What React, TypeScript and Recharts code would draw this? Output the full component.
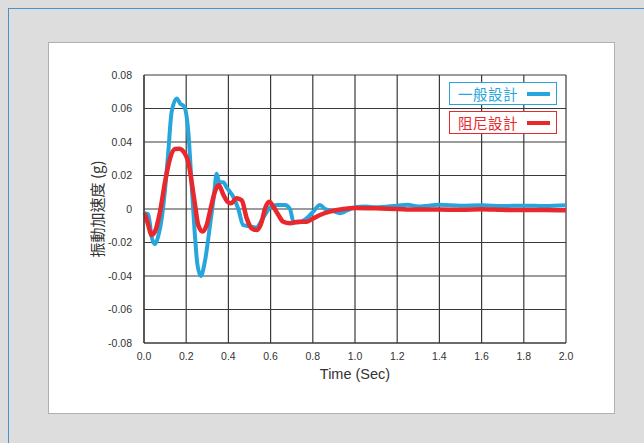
import React from 'react';
import { LineChart, Line, XAxis, YAxis, CartesianGrid } from 'recharts';

const xTicks = [0, 0.2, 0.4, 0.6, 0.8, 1.0, 1.2, 1.4, 1.6, 1.8, 2.0];
const yTicks = [-0.08, -0.06, -0.04, -0.02, 0, 0.02, 0.04, 0.06, 0.08];

const seriesNames = ['一般設計', '阻尼設計'];
const seriesColors = ['#27a6de', '#e8282c'];

const blueT = [0, 0.005, 0.02, 0.036, 0.052, 0.068, 0.084, 0.1, 0.115, 0.131, 0.155, 0.171, 0.191, 0.21, 0.226, 0.239, 0.253, 0.269, 0.289, 0.313, 0.332, 0.344, 0.357, 0.376, 0.391, 0.423, 0.447, 0.47, 0.486, 0.51, 0.534, 0.558, 0.573, 0.597, 0.629, 0.668, 0.692, 0.708, 0.731, 0.771, 0.802, 0.834, 0.858, 0.89, 0.93, 0.96, 1.0, 1.05, 1.1, 1.2, 1.25, 1.3, 1.4, 1.5, 1.6, 1.7, 1.8, 1.9, 2.0];
const blueV = [-0.002, -0.0026, -0.003, -0.0165, -0.021, -0.016, -0.0056, 0.012, 0.034, 0.058, 0.066, 0.063, 0.061, 0.046, 0.014, -0.0115, -0.033, -0.04, -0.031, -0.0096, 0.0084, 0.021, 0.016, 0.016, 0.013, 0.0073, 0, -0.0096, -0.01, -0.0106, -0.011, -0.0066, -0.0035, 0.0008, 0.0024, 0.0024, 0, -0.0076, -0.008, -0.0056, -0.0016, 0.0024, 0, -0.001, -0.0025, -0.001, 0.001, 0.0015, 0.001, 0.002, 0.0025, 0.0015, 0.0025, 0.002, 0.0022, 0.0018, 0.002, 0.0018, 0.0022];

const redT = [0, 0.005, 0.02, 0.036, 0.052, 0.076, 0.1, 0.123, 0.147, 0.167, 0.194, 0.21, 0.226, 0.242, 0.257, 0.278, 0.297, 0.316, 0.336, 0.354, 0.376, 0.395, 0.412, 0.439, 0.463, 0.487, 0.51, 0.534, 0.558, 0.573, 0.594, 0.613, 0.637, 0.66, 0.692, 0.731, 0.771, 0.802, 0.834, 0.88, 0.945, 1.0, 1.1, 1.2, 1.3, 1.4, 1.5, 1.6, 1.7, 1.8, 1.9, 2.0];
const redV = [-0.003, -0.0035, -0.0096, -0.0155, -0.0135, -0.0016, 0.0163, 0.03, 0.0358, 0.036, 0.033, 0.028, 0.016, 0.0024, -0.0096, -0.0135, -0.0096, 0.0004, 0.0103, 0.0143, 0.0085, 0.0044, 0.0034, 0.0064, 0.0052, -0.0056, -0.0115, -0.0125, -0.0076, 0, 0.0044, 0.0014, -0.0036, -0.0076, -0.0085, -0.0076, -0.0076, -0.0056, -0.0036, -0.0016, 0, 0.0006, 0.0004, 0, -0.0003, -0.0003, -0.0005, -0.0002, -0.0005, -0.0006, -0.0006, -0.0008];

const blueData = blueT.map((t, i) => ({ t, v: blueV[i] }));
const redData = redT.map((t, i) => ({ t, v: redV[i] }));

const FONT = '"Liberation Sans", Arial, sans-serif';
const CJK = '"Noto Sans CJK TC", sans-serif';

const LegendBox = () => (
  <div style={{ position: 'absolute', left: 449, top: 82, display: 'flex', flexDirection: 'column', gap: 6, fontFamily: CJK }}>
    {seriesNames.map((n, i) => (
      <div
        key={n}
        style={{
          width: 106,
          height: 21,
          border: `1.5px solid ${seriesColors[i]}`,
          background: '#fff',
          display: 'flex',
          alignItems: 'center',
        }}
      >
        <span style={{ color: seriesColors[i], fontSize: 14.5, marginLeft: 8, lineHeight: '21px', letterSpacing: 0.5 }}>{n}</span>
        <span style={{ display: 'inline-block', width: 23, height: 4, background: seriesColors[i], marginLeft: 9 }} />
      </div>
    ))}
  </div>
);

export default function App() {
  return (
    <div style={{ position: 'absolute', left: 0, top: 0, width: 644, height: 443, background: '#dddddd', overflow: 'hidden' }}>
      <div style={{ position: 'absolute', left: 8, top: 8, width: 640, height: 440, borderTop: '1.5px solid #4a92cc', borderLeft: '1.5px solid #4a92cc' }} />
      <div style={{ position: 'absolute', left: 48, top: 42, width: 565, height: 370, background: '#fff', border: '1px solid #b0b0b0' }} />
      <div style={{ position: 'absolute', left: 0, top: 0 }}>
        <LineChart width={644} height={443} margin={{ top: 75, right: 78, bottom: 70, left: 84 }}>
          <CartesianGrid stroke="#3a3a3a" strokeWidth={1.2} />
          <XAxis
            type="number"
            dataKey="t"
            domain={[0, 2]}
            ticks={xTicks}
            tickFormatter={(v: number) => v.toFixed(1)}
            height={30}
            tickLine={false}
            axisLine={{ stroke: '#3a3a3a', strokeWidth: 1.2 }}
            tick={{ fill: '#333', fontSize: 10.5, fontFamily: FONT }}
            tickMargin={4}
            allowDuplicatedCategory={false}
            label={{ value: 'Time (Sec)', position: 'insideBottom', offset: -6, fill: '#333', fontSize: 14.5, fontFamily: FONT }}
          />
          <YAxis
            type="number"
            domain={[-0.08, 0.08]}
            ticks={yTicks}
            tickFormatter={(v: number) => (v === 0 ? '0' : v.toFixed(2))}
            width={60}
            tickLine={false}
            axisLine={{ stroke: '#3a3a3a', strokeWidth: 1.2 }}
            tick={{ fill: '#333', fontSize: 10.5, fontFamily: FONT }}
            tickMargin={6}
            label={{ value: '振動加速度 (g)', angle: -90, position: 'insideLeft', offset: 14, fill: '#333', fontSize: 15, fontFamily: CJK, style: { textAnchor: 'middle' } }}
          />
          <Line data={blueData} dataKey="v" name={seriesNames[0]} type="monotone" stroke={seriesColors[0]} strokeWidth={4} dot={false} isAnimationActive={false} />
          <Line data={redData} dataKey="v" name={seriesNames[1]} type="monotone" stroke={seriesColors[1]} strokeWidth={4.5} dot={false} isAnimationActive={false} />
        </LineChart>
      </div>
      <LegendBox />
    </div>
  );
}
